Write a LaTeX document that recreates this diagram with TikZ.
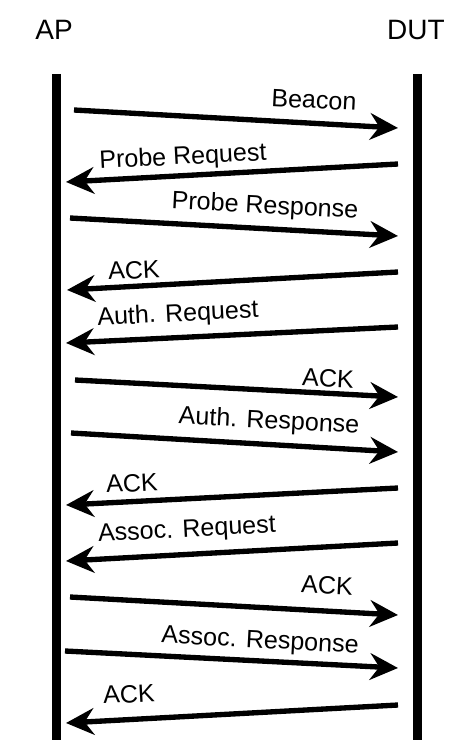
\documentclass[tikz,border=0pt]{standalone}
\usepackage{fontspec}
\setmainfont{Liberation Sans}
\usetikzlibrary{arrows.meta}
\begin{document}
\begin{tikzpicture}[x=0.75pt,y=-0.75pt,
  lifeline/.style={line width=6.75pt},
  msg/.style={line width=4pt,-{Stealth[length=21pt,width=20pt,inset=7pt]}},
  lbl/.style={font=\fontsize{18.8}{20}\selectfont, inner sep=0pt},
  actor/.style={font=\fontsize{21}{24}\selectfont, inner sep=0pt}]
\useasboundingbox (0,0) rectangle (474,748);
% actors
\node[actor] (ap) at (54,30) {AP};
\node[actor] (dut) at (416,30) {DUT};
\coordinate (apT) at (56,74); \coordinate (apB) at (56,740);
\coordinate (dutT) at (417,74); \coordinate (dutB) at (417,740);
\draw[lifeline] (apT) -- (apB);
\draw[lifeline] (dutT) -- (dutB);
% messages
\coordinate (m1s) at (74,110);  \coordinate (m1e) at (398,128);
\coordinate (m2s) at (398,164); \coordinate (m2e) at (66,182);
\coordinate (m3s) at (70,218);  \coordinate (m3e) at (398,236);
\coordinate (m4s) at (398,272); \coordinate (m4e) at (67,290);
\coordinate (m5s) at (398,327); \coordinate (m5e) at (66,343);
\coordinate (m6s) at (75,380);  \coordinate (m6e) at (398,397);
\coordinate (m7s) at (71,433);  \coordinate (m7e) at (398,452);
\coordinate (m8s) at (398,488); \coordinate (m8e) at (66,505);
\coordinate (m9s) at (398,543); \coordinate (m9e) at (66,561);
\coordinate (m10s) at (70,597); \coordinate (m10e) at (398,615);
\coordinate (m11s) at (65,651); \coordinate (m11e) at (398,668);
\coordinate (m12s) at (398,705); \coordinate (m12e) at (66,723);
\foreach \i in {1,...,12} {\draw[msg] (m\i s) -- (m\i e);}
% labels
\node[lbl,rotate=-3] (l1) at (314,100) {Beacon};
\node[lbl,rotate=3]  (l2) at (183,158) {Probe Request};
\node[lbl,rotate=-3] (l3) at (265,207) {Probe Response};
\node[lbl,rotate=3]  (l4) at (134,270) {ACK};
\node[lbl,rotate=3]  (l5) at (178,315) {Auth. Request};
\node[lbl,rotate=-3] (l6) at (328,378) {ACK};
\node[lbl,rotate=-3] (l7) at (269,422) {Auth. Response};
\node[lbl,rotate=3]  (l8) at (132,483) {ACK};
\node[lbl,rotate=3]  (l9) at (187,531) {Assoc. Request};
\node[lbl,rotate=-3] (l10) at (327,585) {ACK};
\node[lbl,rotate=-3] (l11) at (260,642) {Assoc. Response};
\node[lbl,rotate=3]  (l12) at (129,694) {ACK};
\end{tikzpicture}
\end{document}
